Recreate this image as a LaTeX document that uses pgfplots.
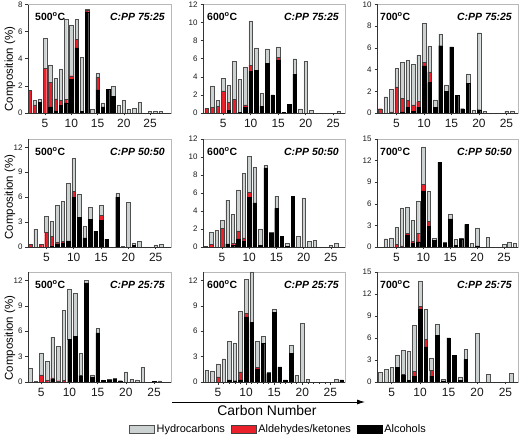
\documentclass[border=0pt]{standalone}
\usepackage{fontspec}
\setmainfont{Liberation Sans}
\usepackage{pgfplots}
\usepackage{pgfplotstable}
\pgfplotsset{compat=1.18}
\usetikzlibrary{arrows.meta}

\definecolor{hcgray}{RGB}{204,210,210}
\definecolor{hcedge}{RGB}{80,80,80}
\definecolor{aldred}{RGB}{234,32,42}

% columns: carbon number, alcohols, aldehydes/ketones, hydrocarbons
\pgfplotstableread{
C alc ald hc
2 0 1.65 0
3 0 0.6 0.35
4 0.8 0 0.25
5 0 3.3 2.2
6 0.45 1.8 1.3
7 0.15 0.9 1.5
8 0.55 0.4 2.3
9 0.75 0.25 5.9
10 2.5 0.25 3.75
11 4.8 0.65 1.45
12 0.1 0 4.0
13 7.45 0.1 0.1
14 0 0 0.25
15 1.7 0.95 0.25
16 0.45 0 0.3
17 1.75 0 0
18 1.25 0 0.7
19 0 0 0.6
20 0 0 0.95
21 0 0 0.25
22 0 0 0.35
23 0 0 0.8
24 0 0 0
25 0 0 0.12
26 0 0 0.15
27 0 0 0.12
}\tA
\pgfplotstableread{
C alc ald hc
2 0 0.5 0.05
3 0 0.6 2.4
4 0 0.75 0.65
5 0 2.45 1.4
6 0.3 0.9 1.85
7 0 1.5 4.2
8 0.1 0 3.65
9 0.6 0.3 4.15
10 4.6 0.7 4.9
11 4.75 0 2.45
12 0.75 0 1.45
13 5.5 0 1.6
14 2.0 0 0
15 5.85 0.3 1.15
16 0.1 0 0
17 0.95 0 0
18 4.3 0 1.7
19 0 0 0.45
20 0 0 5.75
21 0 0 0.3
22 0 0 0
23 0 0 0
24 0 0 0
25 0 0 0
26 0 0 0.2
27 0 0 0
}\tB
\pgfplotstableread{
C alc ald hc
2 0 0.4 0
3 0 0 1.5
4 0 0.1 2.05
5 0 2.4 1.7
6 0.1 1.25 3.3
7 0.55 0.6 3.7
8 0.15 0.6 3.75
9 0.55 0.5 4.3
10 4.35 0.3 3.6
11 2.8 1.0 2.35
12 0.5 0 0.7
13 6.2 0 1.1
14 2.0 0 0.6
15 6.1 0 0
16 1.6 0 0
17 0.4 0 0
18 2.75 0 0.85
19 0 0 0.25
20 0.3 0 7.1
21 0 0 0.15
22 0 0 0
23 0 0 0
24 0 0 0
25 0 0 0.2
26 0 0 0.2
27 0 0 0
}\tC
\pgfplotstableread{
C alc ald hc
2 0 0.35 0
3 0 0 2.15
4 0 0.3 0
5 0 1.8 1.85
6 0.05 1.25 1.75
7 0.4 0.2 4.45
8 0.5 0.2 4.8
9 0.75 0 6.9
10 6.0 0.7 4.0
11 3.55 0 2.75
12 1.1 0 1.35
13 3.35 0 1.4
14 1.9 0 0
15 3.2 0.6 1.2
16 0.95 0 0
17 0 0 0
18 6.0 0 0.5
19 0 0 0.05
20 0 0 5.4
21 0.2 0 0.3
22 0 0 0.7
23 0 0 0
24 0 0 0
25 0 0 0.25
26 0 0 0.35
27 0 0 0
}\tD
\pgfplotstableread{
C alc ald hc
2 0 0.1 0
3 0 0.3 1.3
4 0 0 1.85
5 0 2.05 0.9
6 0.35 0 4.85
7 0.15 0.25 3.2
8 0.9 0.9 4.55
9 0.6 0.4 7.2
10 5.5 0.6 4.0
11 4.9 0 4.0
12 0.15 0 1.8
13 8.8 0 0.3
14 1.5 0 0.15
15 4.3 0 1.35
16 1.2 0 0
17 0.1 0 0.3
18 5.65 0 0
19 0 0 1.15
20 0 0 5.45
21 0 0 0.6
22 0 0 0.7
23 0 0 0
24 0 0 0
25 0 0 0.2
26 0 0 0.4
27 0 0 0
}\tE
\pgfplotstableread{
C alc ald hc
2 0 0 0
3 0 0 1.15
4 0 0 1.25
5 0 0.4 2.35
6 0 0.15 5.3
7 1.7 0.2 3.6
8 0.5 0.3 2.9
9 0.7 1.2 4.5
10 7.8 0.9 5.2
11 2.9 0.7 4.2
12 0.9 0 0.3
13 11.8 0 0
14 0.5 0 0.15
15 3.9 0 0.7
16 0.25 0 0.8
17 1.15 0 0.05
18 3.15 0 0
19 0 0 0.5
20 0.15 0 2.5
21 0 0 0
22 0 0 1.3
23 0 0 0
24 0 0 0
25 0 0 0.35
26 0 0 0.7
27 0 0 0.5
}\tF
\pgfplotstableread{
C alc ald hc
2 0 0 0
3 0 0 1.65
4 0 0 0.1
5 0 0.85 2.6
6 0 0.2 2.2
7 0.3 0.2 4.8
8 0 0.15 4.1
9 0 0.2 8.25
10 5.05 0 5.95
11 5.4 0 5.1
12 0.75 0 2.65
13 11.7 0 0.3
14 0.6 0 0.25
15 5.8 0 0.5
16 0.2 0 0.05
17 0.25 0 0.05
18 0.35 0 0.1
19 0.15 0 0
20 0 0 1.2
21 0 0 0.3
22 0 0 0.25
23 0 0 1.75
24 0 0 0
25 0.05 0 0
26 0 0 0.15
27 0 0 0
}\tG
\pgfplotstableread{
C alc ald hc
2 0 0 0
3 0 0 1.4
4 0 0 1.3
5 0 0.6 1.55
6 0 0 2.75
7 0.25 0 4.55
8 0.15 0 4.45
9 0.25 0.95 7.15
10 7.7 0.4 4.0
11 7.05 0 5.95
12 1.55 0.2 3.05
13 4.6 0 0.8
14 1.0 0 0.2
15 8.2 0 0.45
16 1.8 0 0
17 0.25 0 0
18 3.4 0 0.9
19 0 0 0.8
20 0 0 6.9
21 0 0 0.3
22 0 0 0
23 0 0 0
24 0 0 0
25 0 0 0
26 0 0 0.3
27 0.25 0 0
}\tH
\pgfplotstableread{
C alc ald hc
2 0 0 0
3 0 0 1.35
4 0 0 1.75
5 0 0 1.95
6 2.0 0 1.7
7 1.0 0 3.3
8 0.2 0 3.95
9 0.75 0.7 6.3
10 9.9 0.4 3.5
11 4.8 1.0 4.1
12 0.8 0.8 1.7
13 6.4 0 1.5
14 0.15 0 0.25
15 6.0 0 0
16 3.6 0 0
17 0.25 0 0.45
18 3.1 0 1.35
19 0 0 0
20 0 0 6.6
21 0 0 0
22 0 0 1.0
23 0 0 0
24 0 0 0
25 0 0 0
26 0 0 1.2
27 0 0 0
}\tI

\pgfplotsset{
  panel/.style={
    scale only axis, anchor=south west,
    ybar stacked, bar width=0.64,
    ymin=0,
    axis line style={black!28, line width=0.5bp},
    tick align=outside, xtick pos=bottom, ytick pos=left,
    xtick={5,10,15,20,25}, minor x tick num=4,
    major tick length=2.5bp, minor tick length=1.5bp,
    tick style={black!80, line width=0.5bp},
    x tick label style={font=\fontsize{12}{12}\selectfont, text=black!90},
    y tick label style={font=\fontsize{8}{8}\selectfont, text=black!90, xshift=0.5bp},
    /pgf/number format/assume math mode=true,
    clip mode=individual,
    after end axis/.code={
      \draw[black!80, line width=0.6bp] (rel axis cs:0,1) -- (rel axis cs:0,0) -- (rel axis cs:1,0);
    },
  },
  col1/.style={panel, width=143bp},
  col2/.style={panel, width=142bp},
  col3/.style={panel, width=141bp},
  legbox/.style={legend image code/.code={\draw[##1, line width=0.4bp] (0bp,-4bp) rectangle (25bp,4bp);}},
}

\newcommand\bars[1]{%
  \addplot[fill=black, draw=black, line width=0.3bp] table[x=C, y=alc]{#1};
  \addplot[fill=aldred, draw=black!75, line width=0.3bp] table[x=C, y=ald]{#1};
  \addplot[fill=hcgray, draw=hcedge, line width=0.4bp] table[x=C, y=hc]{#1};
}
\newcommand\plabel[3]{%
  \node[anchor=west, inner sep=0pt, font=\bfseries\fontsize{10.5}{10.5}\selectfont]
    at ([xshift=#3, yshift=-12.5bp]rel axis cs:0,1) {#1\textsuperscript{o}C};
  \node[anchor=east, inner sep=0pt, font=\bfseries\itshape\fontsize{10.5}{10.5}\selectfont]
    at ([xshift=-6bp, yshift=-12.5bp]rel axis cs:1,1) {C:PP #2};
}

\begin{document}
\begin{tikzpicture}
\useasboundingbox (0bp,0bp) rectangle (520bp,437bp);

% ---- row 1 ----
\begin{axis}[col1, at={(28bp,324bp)}, height=108.5bp, xmin=1.75, xmax=29, ymax=8, ytick={0,2,4,6,8}]
\bars{\tA}
\plabel{500}{75:25}{7bp}
\end{axis}
\begin{axis}[col2, at={(203bp,324bp)}, height=108.5bp, xmin=1.33, xmax=27.15, ymax=12, ytick={0,2,...,12}]
\bars{\tB}
\plabel{600}{75:25}{4bp}
\end{axis}
\begin{axis}[col3, at={(377bp,324bp)}, height=108.5bp, xmin=1.45, xmax=27.1, ymax=10, ytick={0,2,...,10}]
\bars{\tC}
\plabel{700}{75:25}{3bp}
\end{axis}

% ---- row 2 ----
\begin{axis}[col1, at={(28bp,190bp)}, height=108bp, xmin=1.63, xmax=27.8, ymax=13, ytick={0,3,...,12}]
\bars{\tD}
\plabel{500}{50:50}{7bp}
\end{axis}
\begin{axis}[col2, at={(203bp,190bp)}, height=108bp, xmin=1.5, xmax=27.6, ymax=12, ytick={0,2,...,12}]
\bars{\tE}
\plabel{600}{50:50}{4bp}
\end{axis}
\begin{axis}[col3, at={(377bp,190bp)}, height=108bp, xmin=1.38, xmax=27.6, ymax=15, ytick={0,3,...,15}]
\bars{\tF}
\plabel{700}{50:50}{3bp}
\end{axis}

% ---- row 3 ----
\begin{axis}[col1, at={(28bp,55bp)}, height=110bp, xmin=2.65, xmax=28, ymax=13, ytick={0,3,...,12}]
\bars{\tG}
\plabel{500}{25:75}{7bp}
\end{axis}
\begin{axis}[col2, at={(203bp,55bp)}, height=110bp, xmin=2.34, xmax=27.6, ymax=13, ytick={0,3,...,12},
  legend style={at={(0.532,-0.427)}, anchor=center, draw=none, fill=none, legend columns=3,
    font=\fontsize{11}{11}\selectfont, inner sep=0pt,
    /tikz/every even column/.append style={column sep=4bp}}]
\addlegendimage{legbox, fill=hcgray, draw=hcedge}
\addlegendimage{legbox, fill=aldred, draw=black!75}
\addlegendimage{legbox, fill=black, draw=black}
\bars{\tH}
\plabel{600}{25:75}{4bp}
\legend{Hydrocarbons, Aldehydes/ketones, Alcohols}
\end{axis}
\begin{axis}[col3, at={(377bp,55bp)}, height=110bp, xmin=2.42, xmax=27.2, ymax=15, ytick={0,3,...,15}]
\bars{\tI}
\plabel{700}{25:75}{3bp}
\end{axis}

% ---- shared labels ----
\foreach \yy in {368,240,99}{
  \node[rotate=90, font=\fontsize{11.5}{11.5}\selectfont, inner sep=0pt] at (10bp,\yy bp) {Composition (\%)};
}
\draw[black, line width=0.8bp, -{Latex[length=8bp, width=5bp]}] (172bp,35bp) -- (365bp,35bp);
\node[font=\fontsize{14}{14}\selectfont, inner sep=0pt] at (267bp,26bp) {Carbon Number};
\end{tikzpicture}
\end{document}
